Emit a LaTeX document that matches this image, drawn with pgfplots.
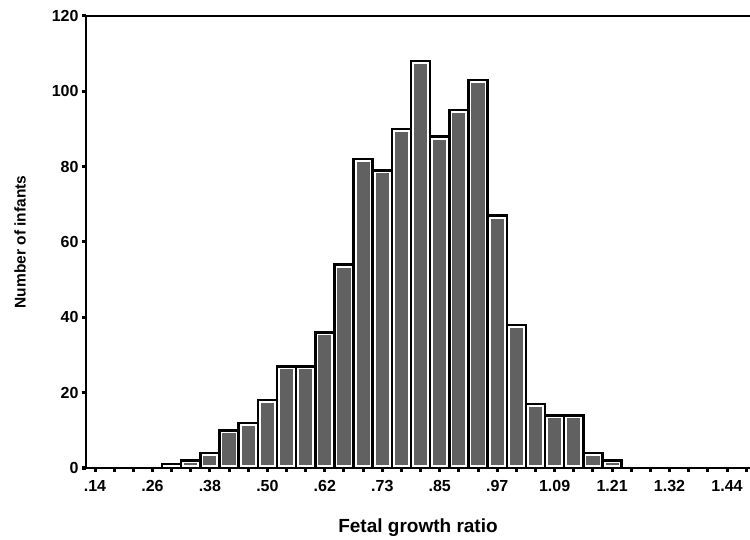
\documentclass[border=0pt]{standalone}
\usepackage{pgfplots}
\usepackage{pgfplotstable}
\pgfplotsset{compat=1.18}
\usepackage{fontspec}
\setmainfont{Liberation Sans}

% Histogram counts; bin index k, bins are 1/3 of a label step wide
\pgfplotstableread{
k  n
4  1
5  2
6  4
7  10
8  12
9  18
10 27
11 27
12 36
13 54
14 82
15 79
16 90
17 108
18 88
19 95
20 103
21 67
22 38
23 17
24 14
25 14
26 4
27 2
}\counts

\begin{document}
\begin{tikzpicture}
\begin{axis}[
  at={(86bp,72bp)}, anchor=south west,
  scale only axis, width=664bp, height=452bp,
  xmin=-0.47, xmax=34.2, ymin=0, ymax=120,
  axis y line*=left,
  axis on top,
  axis line style={line width=2.5bp},
  ytick={0,20,...,120},
  yticklabels={0,20,40,60,80,100,120},
  xtick={0,3,...,33},
  xticklabels={.14,.26,.38,.50,.62,.73,.85,.97,1.09,1.21,1.32,1.44},
  minor xtick={0,...,34},
  xtick pos=left,
  tick align=outside,
  major tick length=4bp, minor tick length=4bp,
  tick style={line width=3bp, black},
  ticklabel style={font=\fontsize{16bp}{18bp}\selectfont\bfseries},
  xticklabel style={yshift=-5bp},
  xlabel={Fetal growth ratio},
  ylabel={Number of infants},
  xlabel style={font=\fontsize{19bp}{21bp}\selectfont\bfseries,
    at={(axis description cs:0.5,0)}, anchor=center, yshift=-60bp},
  ylabel style={font=\fontsize{15.5bp}{18bp}\selectfont\bfseries,
    at={(axis description cs:0,0.5)}, anchor=center, yshift=66bp},
]
\addplot[ybar, bar width=1, bar shift=0pt, fill=black!62, draw=white, line width=6bp] table[x=k, y=n] {\counts};
\addplot[ybar, bar width=1, bar shift=0pt, fill=none, draw=black, line width=2.5bp] table[x=k, y=n] {\counts};
\end{axis}
\pgfresetboundingbox
\path (0,0) rectangle (750bp,540bp);
\end{tikzpicture}
\end{document}
